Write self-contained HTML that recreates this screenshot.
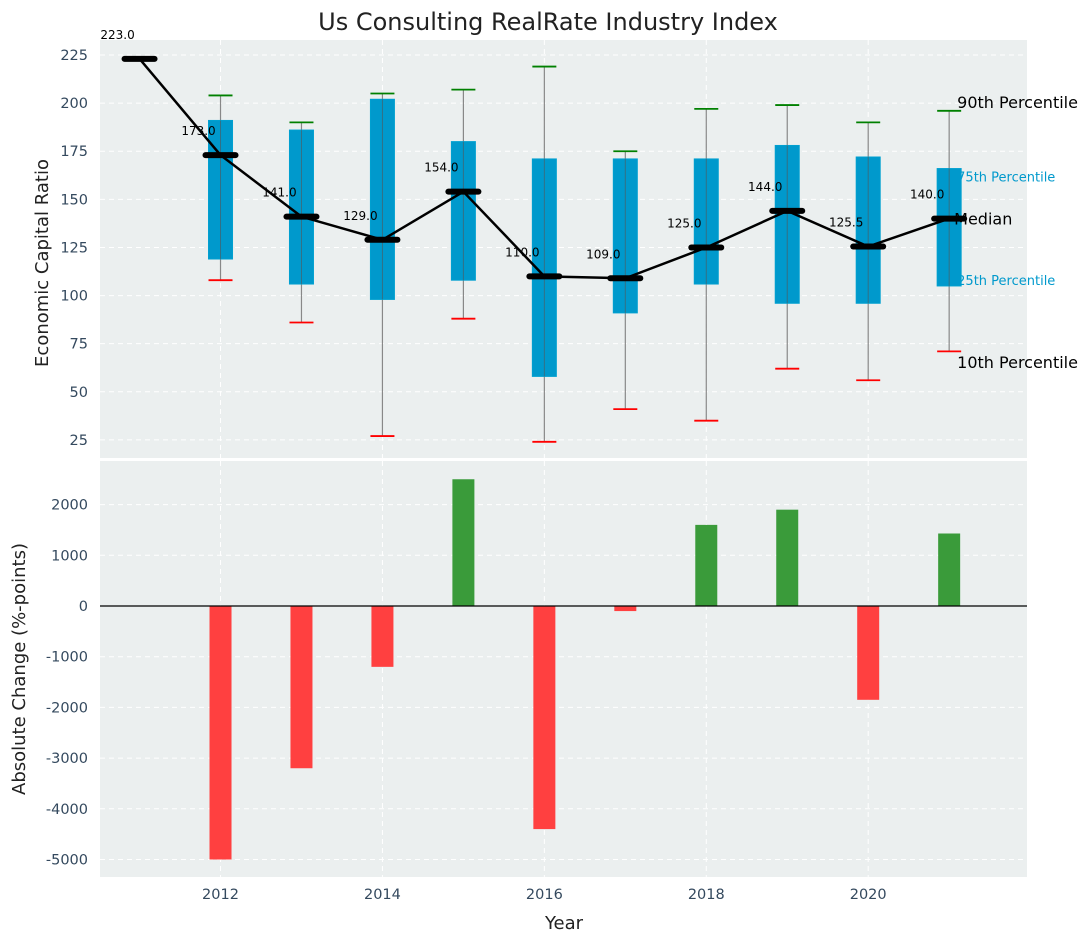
<!DOCTYPE html>
<html><head><meta charset="utf-8"><style>
body{margin:0;background:#fff;font-family:"Liberation Sans","DejaVu Sans",sans-serif}
svg text{font-family:"DejaVu Sans","Liberation Sans",sans-serif}
</style></head><body>
<svg id="c" width="1092" height="942" xmlns="http://www.w3.org/2000/svg"></svg>
<script>
const years=[2011,2012,2013,2014,2015,2016,2017,2018,2019,2020,2021];
const medians=[223,173,141,129,154,110,109,125,144,125.5,140];
const q25=[null,119,106,98,108,58,91,106,96,96,105];
const q75=[null,191,186,202,180,171,171,171,178,172,166];
const p10=[null,108,86,27,88,24,41,35,62,56,71];
const p90=[null,204,190,205,207,219,175,197,199,190,196];
const changes=[null,-5000,-3200,-1200,2500,-4400,-100,1600,1900,-1850,1430];
const yTicksTop=[25,50,75,100,125,150,175,200,225];
const yTicksBot=[-5000,-4000,-3000,-2000,-1000,0,1000,2000];
const xTicks=[2012,2014,2016,2018,2020];

const NS="http://www.w3.org/2000/svg";
const svg=document.getElementById('c');
function el(t,a,txt){const e=document.createElementNS(NS,t);for(const k in a)e.setAttribute(k,a[k]);if(txt!=null)e.textContent=txt;svg.appendChild(e);return e;}
const L=100,R=1027;
const x=v=>L+1.5+(v-2010.53)/(2021.98-2010.53)*(R-L);
const T1=40,B1=458,yT=v=>B1-(v-15.6)/(232.8-15.6)*(B1-T1);
const T2=461,B2=877,yB=v=>B2-(v+5345)/(2860+5345)*(B2-T2);

let e;
e=el('rect',{x:L,y:T1,width:R-L,height:B1-T1,fill:'#ebefef'});

e=el('rect',{x:L,y:T2,width:R-L,height:B2-T2,fill:'#ebefef'});

const tc='#34495e';
yTicksTop.forEach(v=>{el('line',{x1:L,x2:R,y1:yT(v),y2:yT(v),stroke:'#fff','stroke-dasharray':'5,4','stroke-width':1});
 e=el('text',{x:L-12,y:yT(v)+5,'text-anchor':'end','font-size':14.5,fill:tc},v);
 });
yTicksBot.forEach(v=>{el('line',{x1:L,x2:R,y1:yB(v),y2:yB(v),stroke:'#fff','stroke-dasharray':'5,4','stroke-width':1});
 e=el('text',{x:L-12,y:yB(v)+5,'text-anchor':'end','font-size':14.5,fill:tc},v);
 });
xTicks.forEach(v=>{el('line',{x1:x(v),x2:x(v),y1:T1,y2:B1,stroke:'#fff','stroke-dasharray':'5,4'});
 el('line',{x1:x(v),x2:x(v),y1:T2,y2:B2,stroke:'#fff','stroke-dasharray':'5,4'});
 e=el('text',{x:x(v),y:B2+22,'text-anchor':'middle','font-size':14.5,fill:tc},v);
 });

const last=years.length-1, lx=x(years[last])+8;
[['90th Percentile',p90[last]+4,16,'#000'],['75th Percentile',q75[last]-4,13,'#0099cc'],['25th Percentile',q25[last]+3,13,'#0099cc'],['10th Percentile',p10[last]-6,16,'#000']].forEach(a=>{
 e=el('text',{x:lx,y:yT(a[1])+5,'font-size':a[2],fill:a[3]},a[0]);
 });

const bw=24;
years.forEach((yr,i)=>{
 if(q25[i]==null)return;
 const cx=x(yr);
 e=el('line',{x1:cx,x2:cx,y1:yT(p90[i]),y2:yT(p10[i]),stroke:'#888','stroke-width':1.2});
 
 e=el('rect',{x:cx-bw/2,y:yT(q75[i]),width:bw,height:yT(q25[i])-yT(q75[i]),fill:'#0099cc',stroke:'#00a0d0'});
 
 el('line',{x1:cx,x2:cx,y1:yT(q75[i]),y2:yT(q25[i]),stroke:'#555','stroke-width':1,opacity:0.6});
 e=el('line',{x1:cx-12,x2:cx+12,y1:yT(p90[i]),y2:yT(p90[i]),stroke:'green','stroke-width':1.8});
 
 e=el('line',{x1:cx-12,x2:cx+12,y1:yT(p10[i]),y2:yT(p10[i]),stroke:'red','stroke-width':1.8});
 
});
e=el('polyline',{points:years.map((yr,i)=>x(yr)+','+yT(medians[i])).join(' '),fill:'none',stroke:'#000','stroke-width':2.5});

years.forEach((yr,i)=>{
 const cx=x(yr),cy=yT(medians[i]);
 e=el('line',{x1:cx-15,x2:cx+15,y1:cy,y2:cy,stroke:'#000','stroke-width':6,'stroke-linecap':'round'});
 
 e=el('text',{x:cx-22,y:cy-20,'text-anchor':'middle','font-size':12,fill:'#000'},medians[i].toFixed(1));
 
});
e=el('text',{x:lx-3,y:yT(medians[last])+6,'font-size':16,fill:'#000'},'Median');


years.forEach((yr,i)=>{
 if(changes[i]==null)return;
 const v=changes[i],cx=x(yr),y0=yB(0),y1=yB(v);
 e=el('rect',{x:cx-11,y:Math.min(y0,y1),width:22,height:Math.abs(y1-y0),fill:v>=0?'#3a9b3a':'#ff4040'});
 
});
el('line',{x1:L,x2:R,y1:yB(0),y2:yB(0),stroke:'#000','stroke-width':1.2});

e=el('text',{x:548,y:30,'text-anchor':'middle','font-size':24,fill:'#222'},'Us Consulting RealRate Industry Index');

e=el('text',{x:48,y:263,'text-anchor':'middle','font-size':18,fill:'#222',transform:'rotate(-90 48 263)'},'Economic Capital Ratio');

e=el('text',{x:25,y:669,'text-anchor':'middle','font-size':18,fill:'#222',transform:'rotate(-90 25 669)'},'Absolute Change (%-points)');

e=el('text',{x:564,y:929,'text-anchor':'middle','font-size':18,fill:'#222'},'Year');

</script>
</body></html>
